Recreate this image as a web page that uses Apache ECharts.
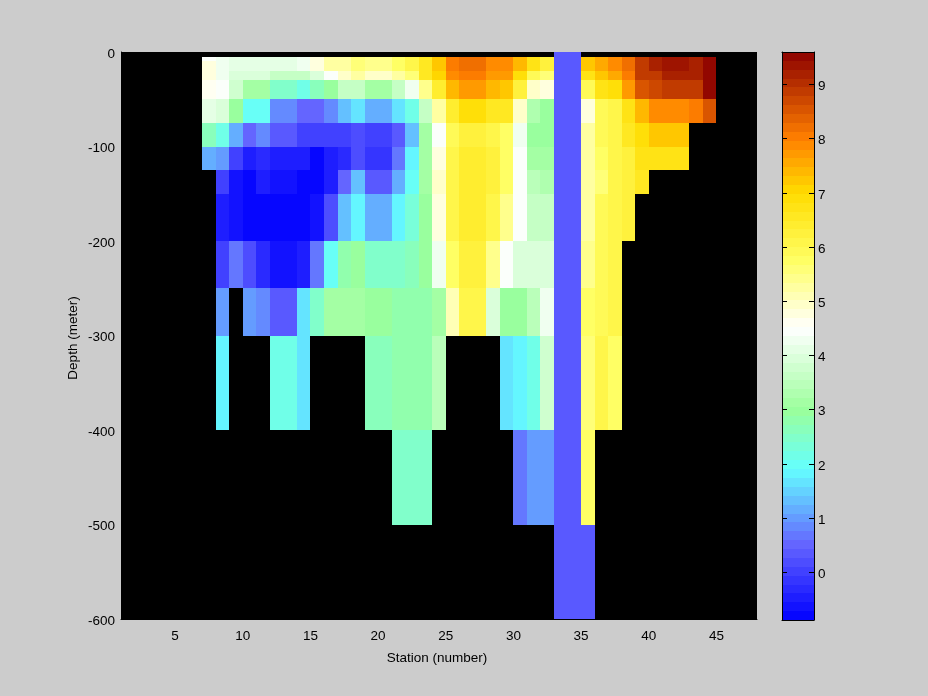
<!DOCTYPE html>
<html>
<head>
<meta charset="utf-8">
<style>html,body{margin:0;padding:0;background:#cccccc}#c{width:928px;height:696px}</style>
<script src="https://cdn.jsdelivr.net/npm/echarts@6/dist/echarts.min.js"></script>
</head>
<body>
<div id="c"></div>
<script>
// Stations: each column runs from station s to s+1, s = 7..44
const stations = [7,8,9,10,11,12,13,14,15,16,17,18,19,20,21,22,23,24,25,26,27,28,29,30,31,32,33,34,35,36,37,38,39,40,41,42,43,44];
// Depth edges of the rows
const depthEdges = [0,-5,-10,-20,-30,-50,-75,-100,-125,-150,-200,-250,-300,-400,-500,-600];
const _ = null;
// Value rows, stations 7..44
const row0   = [_,_,_,_,_,_,_,_,_,_,_,_,_,_,_,_,_,_,_,_,_,_,_,_,_,_,0.4,0.4,_,_,_,_,_,_,_,_,_,_];
const row5   = [4.5,4.35,4.1,4.1,4.1,4.1,4.1,4.35,4.8,5.2,5.3,5.6,5.4,5.4,5.7,6.0,6.6,7.3,8.0,8.2,8.2,7.8,7.8,7.4,6.8,6.3,0.4,0.4,7.2,7.5,7.8,8.2,8.8,9.2,9.4,9.4,9.2,9.55];
const row10  = [4.8,4.35,4.1,4.1,4.1,4.1,4.1,4.35,4.8,5.2,5.3,5.6,5.4,5.4,5.7,6.0,6.6,7.3,8.0,8.2,8.2,7.8,7.8,7.4,6.8,6.3,0.4,0.4,7.2,7.5,7.8,8.2,8.8,9.2,9.4,9.4,9.2,9.55];
const row20  = [4.7,4.35,4.0,4.0,4.0,3.6,3.6,3.6,4.0,4.5,4.9,5.3,5.0,5.0,5.2,5.6,6.5,7.1,7.8,8.1,8.1,7.7,7.7,6.9,5.9,5.6,0.4,0.4,6.7,7.3,7.6,8.0,8.8,8.9,9.2,9.2,9.2,9.55];
const row30  = [4.65,4.4,3.8,3.2,3.2,2.4,2.4,2.2,2.7,3.05,3.6,3.6,3.2,3.2,3.6,4.2,5.4,6.4,7.4,7.7,7.7,7.4,7.2,6.3,5.0,4.75,0.4,0.4,5.9,6.8,6.9,7.7,8.5,8.7,8.8,8.8,8.8,9.55];
const row50  = [4.1,3.9,3.05,2.05,2.05,0.9,0.9,0.5,0.5,0.9,1.4,1.6,1.2,1.2,1.6,2.1,3.6,5.3,6.4,6.9,6.9,6.6,6.5,5.0,3.3,3.0,0.4,0.4,4.8,5.9,6.1,6.7,7.4,7.8,7.8,7.8,8.1,8.6];
const row75  = [2.6,2.1,1.2,0.5,0.8,0.3,0.3,0.0,0.0,0.0,0.05,0.2,-0.05,-0.05,0.3,1.4,3.1,4.5,5.9,6.3,6.3,6.1,5.7,4.25,2.9,2.9,0.4,0.4,5.3,5.9,6.1,6.5,6.9,7.3,7.3,7.3,_,_];
const row100 = [1.1,0.95,0.0,-0.4,-0.25,-0.4,-0.4,-0.55,-0.8,-0.55,-0.25,0.25,-0.2,-0.2,0.7,1.9,3.1,4.7,6.1,6.4,6.4,6.2,5.7,4.4,3.2,3.2,0.4,0.4,5.3,5.7,6.0,6.2,6.8,6.8,6.8,6.8,_,_];
const row125 = [_,0.0,-0.65,-0.8,-0.55,-0.7,-0.7,-0.8,-0.8,-0.5,0.5,1.3,0.35,0.35,1.2,2.05,3.2,4.9,6.1,6.4,6.4,6.2,5.7,4.4,3.45,3.3,0.4,0.4,5.3,5.6,6.0,6.2,6.5,_,_,_,_,_];
const row150 = [_,-0.5,-0.65,-0.8,-0.8,-0.8,-0.8,-0.8,-0.65,0.15,1.4,1.9,1.2,1.2,1.8,2.3,3.05,4.7,6.1,6.4,6.4,6.1,5.5,4.4,3.7,3.6,0.4,0.4,5.3,5.85,6.1,6.2,_,_,_,_,_,_];
const row200 = [_,0.0,0.75,0.15,-0.3,-0.7,-0.7,-0.55,0.7,2.05,2.8,3.0,2.5,2.5,2.5,2.6,2.95,4.25,5.7,6.2,6.2,5.5,4.45,3.95,3.95,3.95,0.4,0.4,5.5,5.95,6.1,_,_,_,_,_,_,_];
const row250 = [_,0.95,_,1.0,0.8,0.3,0.3,1.6,2.5,3.1,3.2,3.2,3.0,3.0,2.85,2.85,2.85,3.2,5.05,6.1,6.1,4.0,3.05,2.95,3.4,4.25,0.4,0.4,5.7,5.95,6.1,_,_,_,_,_,_,_];
const row300 = [_,1.9,_,_,_,2.2,2.2,1.6,_,_,_,_,2.6,2.6,2.85,2.85,2.85,3.4,_,_,_,_,1.6,1.9,2.15,3.8,0.4,0.4,5.6,6.1,5.7,_,_,_,_,_,_,_];
const row400 = [_,_,_,_,_,_,_,_,_,_,_,_,_,_,2.4,2.4,2.4,_,_,_,_,_,_,0.7,1.0,1.0,0.4,0.4,5.7,_,_,_,_,_,_,_,_,_];
const row500 = [_,_,_,_,_,_,_,_,_,_,_,_,_,_,_,_,_,_,_,_,_,_,_,_,_,_,0.4,0.4,0.4,_,_,_,_,_,_,_,_,_];
const rows = [row0,row5,row10,row20,row30,row50,row75,row100,row125,row150,row200,row250,row300,row400,row500];

// Axis ticks
const stationTicks = [5,10,15,20,25,30,35,40,45];
const barTicks = [0,1,2,3,4,5,6,7,8,9];
const barMin = -0.88, barMax = 9.6, levels = 64;
// Colour map anchors: value, r, g, b
const stops = [[-0.88,0,0,255],[0.5,100,100,255],[1.9,100,255,255],[3.0,155,255,155],[4.5,255,255,255],[5.75,255,255,100],[7.0,255,220,0],[8.0,255,128,0],[9.6,140,0,0]];

function colorAt(v){
  for(let i=1;i<stops.length;i++){
    if(v<=stops[i][0]){
      const a=stops[i-1],b=stops[i],t=(v-a[0])/(b[0]-a[0]);
      return 'rgb('+[1,2,3].map(k=>Math.round(a[k]+(b[k]-a[k])*t)).join(',')+')';
    }
  }
  return 'rgb(140,0,0)';
}
const step=(barMax-barMin)/levels;
function levelColor(v){
  const k=Math.max(0,Math.min(levels-1,Math.floor((v-barMin)/step)));
  return colorAt(barMin+(k+0.5)*step);
}
const cells=[];
rows.forEach((row,r)=>row.forEach((v,i)=>{
  if(v!==null) cells.push([stations[i],stations[i]+1,depthEdges[r],depthEdges[r+1],v]);
}));
const bands=[];
for(let k=0;k<levels;k++) bands.push([0,1,barMin+k*step,barMin+(k+1)*step,barMin+(k+0.5)*step]);

function renderCell(params,api){
  const p0=api.coord([api.value(0),api.value(2)]);
  const p1=api.coord([api.value(1),api.value(3)]);
  const x=Math.round(p0[0]),y=Math.round(p0[1]);
  return {type:'rect',shape:{x:x,y:y,width:Math.round(p1[0])-x,height:Math.round(p1[1])-y},
    style:{fill:levelColor(api.value(4)),stroke:null}};
}
const font={fontFamily:'Liberation Sans',fontSize:13.5,color:'#000'};
const line={onZero:false,lineStyle:{color:'#000',width:1}};
const chart=echarts.init(document.getElementById('c'),null,{renderer:'canvas'});
const barX={gridIndex:1,type:'value',min:0,max:1,z:5,splitLine:{show:false},axisTick:{show:false},axisLabel:{show:false},axisLine:{show:true,...line}};
const barTick={show:true,inside:true,length:5,lineStyle:{color:'#000',width:1},customValues:barTicks};
const barY={gridIndex:1,type:'value',min:barMin,max:barMax,z:5,splitLine:{show:false},axisLine:{show:true,...line},axisTick:barTick};
chart.setOption({
  animation:false,
  backgroundColor:'#cccccc',
  grid:[
    {left:121,top:52,width:636,height:567,show:true,backgroundColor:'#000',borderWidth:0},
    {left:782,top:52,width:32,height:568,show:false}
  ],
  xAxis:[
    {gridIndex:0,type:'value',min:1,max:48,name:'Station (number)',nameLocation:'middle',nameGap:32,nameMoveOverlap:false,
     nameTextStyle:{...font,padding:[0,4,0,0]},axisLine:{show:true,...line},splitLine:{show:false},
     axisTick:{show:false},
     axisLabel:{...font,margin:10,customValues:stationTicks}},
    {...barX,position:'bottom'},
    {...barX,position:'top'}
  ],
  yAxis:[
    {gridIndex:0,type:'value',min:-600,max:0,interval:100,name:'Depth (meter)',nameLocation:'middle',nameGap:41,nameMoveOverlap:false,
     nameTextStyle:{...font,padding:[0,5,0,0]},axisLine:{show:true,...line},splitLine:{show:false},axisTick:{show:false},
     axisLabel:{...font,margin:6,verticalAlign:'top',lineHeight:4}},
    {...barY,position:'left',axisLabel:{show:false}},
    {...barY,position:'right',axisLabel:{...font,margin:4,verticalAlign:'top',lineHeight:4,customValues:barTicks}}
  ],
  series:[
    {type:'custom',xAxisIndex:0,yAxisIndex:0,data:cells,renderItem:renderCell,silent:true,progressive:0,
     encode:{x:[0,1],y:[2,3]},clip:true},
    {type:'custom',xAxisIndex:1,yAxisIndex:1,data:bands,renderItem:renderCell,silent:true,progressive:0,
     encode:{x:[0,1],y:[2,3]},z:1}
  ]
});
</script>
</body>
</html>
